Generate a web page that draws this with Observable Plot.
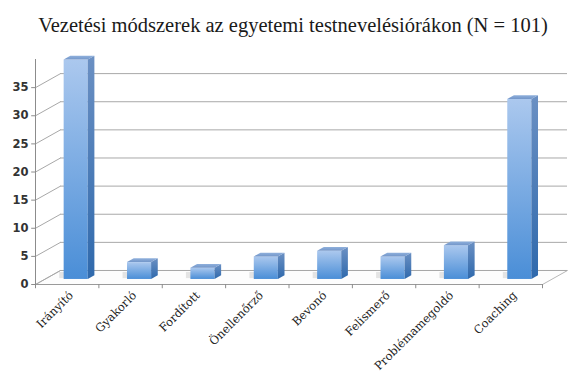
<!DOCTYPE html>
<html><head><meta charset="utf-8">
<script src="https://cdn.jsdelivr.net/npm/d3@7"></script>
<script src="https://cdn.jsdelivr.net/npm/@observablehq/plot@0.6"></script>
<style>
body{margin:0;background:#fff;width:570px;}
#title{height:45px;box-sizing:border-box;padding-top:14px;padding-left:16px;text-align:center;font-family:"Liberation Serif",serif;font-size:20.5px;color:#1a1a1a;line-height:22px;white-space:nowrap;}
</style>
</head><body>
<div id="title">Vezetési módszerek az egyetemi testnevelésiórákon (N = 101)</div>
<div id="chart"></div>
<script>
const categories = ["Irányító","Gyakorló","Fordított","Önellenőrző","Bevonó","Felismerő","Problémamegoldó","Coaching"];
const values = [39,3,2,4,5,4,6,32];
const yTicks = [0,5,10,15,20,25,30,35];
const yMax = 40;

// 3D geometry (in data units)
const N = categories.length;
const DX = 0.3945, DY = 2.49;      // floor depth
const T = 0.36;                    // bar depth position within floor
const W = 0.38;                    // bar width
const BDX = 0.105, BDY = 0.68;     // bar depth

const bars = categories.map((c,i)=>{
  const cx = i + 0.5 + DX*T, b = DY*T;
  return {c, v: values[i], xl: cx - W/2, xr: cx + W/2, b, t: b + values[i], cx};
});
const sideFaces = bars.flatMap(d=>[
  {c:d.c, x:d.xr, y1:d.b, y2:d.t},
  {c:d.c, x:d.xr+BDX, y1:d.b+BDY, y2:d.t+BDY}
]);
const topFaces = bars.flatMap(d=>[
  {c:d.c, y:d.t, x1:d.xl, x2:d.xr},
  {c:d.c, y:d.t+BDY, x1:d.xl+BDX, x2:d.xr+BDX}
]);
const floorPoly = [{x:0,y:0},{x:N,y:0},{x:N+DX,y:DY},{x:DX,y:DY},{x:0,y:0}];
const shadows = bars.map(d=>({c:d.c, x1:d.xl-0.07, x2:d.xr-0.03, y1:d.b+0.15, y2:d.b+DY*0.5}));

const plot = Plot.plot({
  width: 570, height: 328,
  marginLeft: 35, marginRight: 28, marginTop: 14, marginBottom: 89,
  style: {overflow: "visible"},
  x: {type:"linear", domain:[0, N], axis: null},
  y: {domain:[0, yMax], axis: null},
  marks: [
    Plot.line(floorPoly, {x:"x", y:"y", fill:"#fdfdfd", stroke:"#b8b8b8", strokeWidth:1}),
    Plot.link(yTicks, {x1:0, y1:d=>d, x2:DX, y2:d=>d+DY, stroke:"#a8a8a8", strokeWidth:1}),
    Plot.ruleY(yTicks, {y:d=>d+DY, x1:DX, x2:N+DX, stroke:"#a8a8a8", strokeWidth:1}),
    Plot.rect(shadows, {x1:"x1", x2:"x2", y1:"y1", y2:"y2", fill:"#d0d0d0", fillOpacity:0.55}),
    Plot.ruleX([0], {y1:0, y2:yMax, stroke:"#8c8c8c"}),
    Plot.ruleY([0], {x1:0, x2:N, stroke:"#9a9a9a"}),
    Plot.ruleX(d3.range(N+1), {y1:0, y2:-0.75, stroke:"#8c8c8c"}),
    Plot.ruleY(yTicks, {x1:0, x2:-0.06, stroke:"#8c8c8c"}),
    Plot.text(yTicks, {x:0, y:d=>d, text:d=>String(d), textAnchor:"end", dx:-7, fontFamily:"DejaVu Sans", fontWeight:"bold", fontSize:11.5, fill:"#333"}),
    Plot.rect(bars, {x1:"xl", x2:"xr", y1:"b", y2:"t", fill:"url(#gFront)"}),
    Plot.areaY(sideFaces, {x:"x", y1:"y1", y2:"y2", z:"c", fill:"url(#gSide)"}),
    Plot.areaX(topFaces, {y:"y", x1:"x1", x2:"x2", z:"c", fill:"url(#gTop)"}),
    Plot.text(bars, {x:"cx", y:0, text:"c", rotate:-45, textAnchor:"end", lineAnchor:"middle", dx:-5, dy:9, fontFamily:"DejaVu Serif", fontSize:11.5, fill:"#222"})
  ]
});

const defs = d3.select(plot).insert("defs", ":first-child");
function grad(id, stops){
  const g = defs.append("linearGradient").attr("id", id).attr("x1",0).attr("y1",0).attr("x2",0).attr("y2",1);
  stops.forEach(([o,c])=>g.append("stop").attr("offset",o).attr("stop-color",c));
}
grad("gFront", [[0,"#abc8ee"],[1,"#4a8ed7"]]);
grad("gSide", [[0,"#6b90c3"],[1,"#2f69ac"]]);
grad("gTop", [[0,"#8fb0dc"],[1,"#7396c9"]]);

document.getElementById("chart").appendChild(plot);
</script>
</body></html>
